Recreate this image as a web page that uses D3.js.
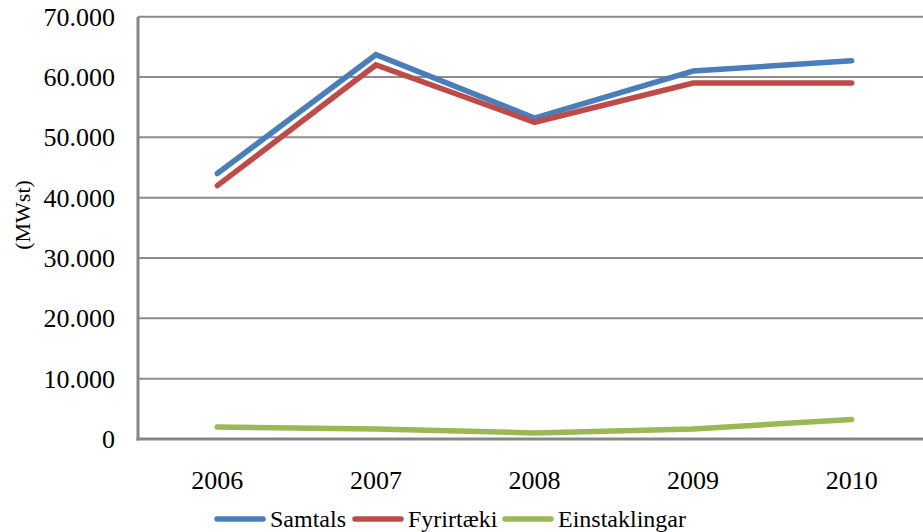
<!DOCTYPE html>
<html>
<head>
<meta charset="utf-8">
<script src="https://cdn.jsdelivr.net/npm/d3@7"></script>
<style>
  body { margin: 0; background: #fff; }
  svg text { font-family: 'Liberation Serif', 'Times New Roman', Times, serif; fill: #000; }
</style>
</head>
<body>
<div id="root"></div>
<script>
var years = ['2006', '2007', '2008', '2009', '2010'];
var samtals = [44000, 63700, 53200, 61000, 62700];
var fyrirtaeki = [42000, 62000, 52500, 59000, 59000];
var einstaklingar = [2000, 1650, 1000, 1650, 3250];
var yTicks = [0, 10000, 20000, 30000, 40000, 50000, 60000, 70000];
var seriesNames = ['Samtals', 'Fyrirtæki', 'Einstaklingar'];
var seriesColors = ['#4a7ebb', '#be4b48', '#98b954'];

var width = 923;
var height = 532;
var plotLeft = 138, plotRight = 931, plotTop = 16.7, plotBottom = 439;

var svg = d3.select('#root')
  .append('svg')
    .attr('width', width)
    .attr('height', height);

var x = d3.scalePoint()
  .domain(years)
  .range([plotLeft, plotRight])
  .padding(0.5);

var y = d3.scaleLinear()
  .domain([0, 70000])
  .range([plotBottom, plotTop]);

// gridlines
svg.append('g')
  .selectAll('line')
  .data(yTicks.slice(1))
  .enter()
  .append('line')
    .attr('x1', plotLeft)
    .attr('x2', plotRight)
    .attr('y1', function(d) { return y(d); })
    .attr('y2', function(d) { return y(d); })
    .attr('stroke', '#8c8c8c')
    .attr('stroke-width', 2);

// y tick labels
var fmt = function(d) {
  return d === 0 ? '0' : d3.format(',')(d).replace(/,/g, '.');
};
svg.append('g')
  .selectAll('text')
  .data(yTicks)
  .enter()
  .append('text')
    .attr('x', 115)
    .attr('y', function(d) { return y(d); })
    .attr('dy', '0.35em')
    .attr('text-anchor', 'end')
    .style('font-size', '26px')
    .text(fmt);

// x tick labels
svg.append('g')
  .selectAll('text')
  .data(years)
  .enter()
  .append('text')
    .attr('x', function(d) { return x(d); })
    .attr('y', 489)
    .attr('text-anchor', 'middle')
    .style('font-size', '26px')
    .text(function(d) { return d; });

// axes lines
svg.append('line')
  .attr('x1', plotLeft).attr('x2', plotLeft)
  .attr('y1', plotTop).attr('y2', plotBottom + 1.5)
  .attr('stroke', '#868686')
  .attr('stroke-width', 3);
svg.append('line')
  .attr('x1', plotLeft - 1.5).attr('x2', plotRight)
  .attr('y1', plotBottom).attr('y2', plotBottom)
  .attr('stroke', '#868686')
  .attr('stroke-width', 3);

// y axis title
svg.append('text')
  .attr('transform', 'translate(30,215) rotate(-90)')
  .attr('text-anchor', 'middle')
  .style('font-size', '22px')
  .text('(MWst)');

var line = d3.line()
  .x(function(d, i) { return x(years[i]); })
  .y(function(d) { return y(d); });

var allSeries = [samtals, fyrirtaeki, einstaklingar];
svg.append('g')
  .selectAll('path')
  .data(allSeries)
  .enter()
  .append('path')
    .attr('d', line)
    .attr('fill', 'none')
    .attr('stroke', function(d, i) { return seriesColors[i]; })
    .attr('stroke-width', 5.5)
    .attr('stroke-linecap', 'round')
    .attr('stroke-linejoin', 'miter');

// legend
var legendX = [217, 355, 505];
var legend = svg.append('g')
  .selectAll('g')
  .data(seriesNames)
  .enter()
  .append('g')
    .attr('transform', function(d, i) { return 'translate(' + legendX[i] + ',519)'; });

legend.append('line')
  .attr('x1', 0).attr('x2', 46)
  .attr('y1', 0).attr('y2', 0)
  .attr('stroke', function(d, i) { return seriesColors[i]; })
  .attr('stroke-width', 5.5)
  .attr('stroke-linecap', 'round');

legend.append('text')
  .attr('x', 53)
  .attr('y', 0)
  .attr('dy', '0.33em')
  .style('font-size', '24px')
  .text(function(d) { return d; });
</script>
</body>
</html>
